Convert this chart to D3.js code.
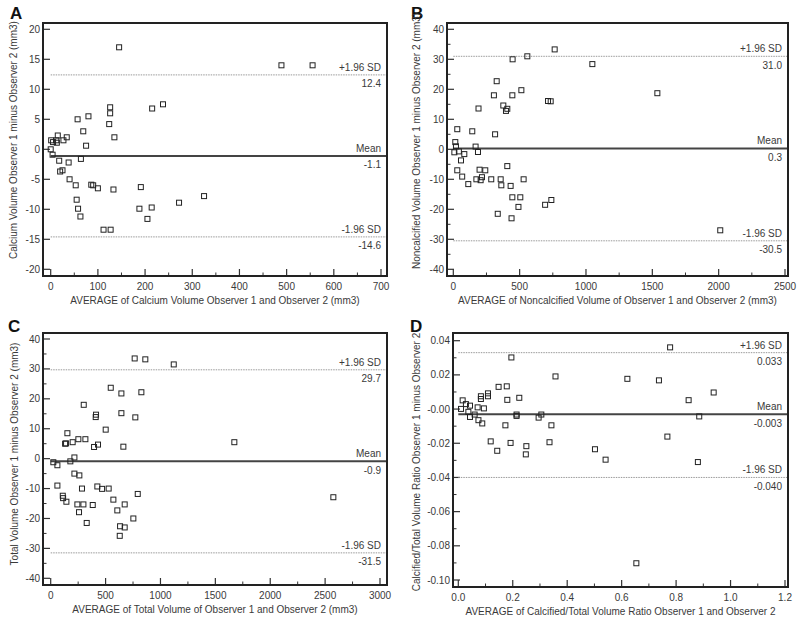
<!DOCTYPE html>
<html><head><meta charset="utf-8">
<script src="https://cdn.jsdelivr.net/npm/d3@7"></script>
<style>
body{margin:0;background:#fff}
text{font-family:"Liberation Sans",Arial,Helvetica,sans-serif;fill:#3a3a3a}
</style>
</head><body>
<svg id="chart" width="800" height="621"></svg>
<script>
// ---------- DATA ----------
// Panel A: calcium volume
const calciumAvg  = [145,489,555,238,215,126,126,124,135,80,57,69,75,1,5,12,13,15,27,34,0,4,18,38,64,20,25,40,53,86,90,100,133,191,55,58,63,112,127,188,214,205,272,325];
const calciumDiff = [17,14,14,7.5,6.8,7,6,4.2,2,5.5,5,3,0.6,1.5,1.2,1.5,1.1,2.3,1.5,2,0,-0.9,-1.9,-2.2,-1.6,-3.7,-3.5,-5,-6,-5.9,-6,-6.5,-6.7,-6.3,-8.4,-9.9,-11.2,-13.4,-13.4,-9.9,-9.7,-11.6,-8.9,-7.8];
const calciumStats = [12.4, -1.1, -14.6];           // +1.96 SD, mean, -1.96 SD
const calciumStatLabels = ["12.4", "-1.1", "-14.6"];

// Panel B: noncalcified volume
const noncalcAvg  = [764,558,447,1048,1538,327,513,306,445,714,734,377,407,397,190,30,143,315,15,20,168,8,42,83,186,58,30,198,241,407,67,113,174,206,216,286,357,362,432,530,445,505,739,692,491,335,439,2012];
const noncalcDiff = [33.3,31,30,28.4,18.7,22.7,19.7,18,18,16.1,16,14.6,13.5,12.8,13.6,6.7,6,5,2.4,1,0.9,-1,-0.7,-1.6,-0.9,-3.7,-7,-6.8,-7,-5.6,-9.1,-11.6,-10,-10.3,-9.3,-10,-10,-12,-12.2,-10,-16,-16,-16.9,-18.5,-19.2,-21.5,-23,-27];
const noncalcStats = [31.0, 0.3, -30.5];
const noncalcStatLabels = ["31.0", "0.3", "-30.5"];

// Panel C: total volume
const totalAvg  = [765,862,1121,547,644,826,301,413,410,644,771,501,152,131,140,200,252,316,395,431,662,216,179,24,61,216,261,61,110,113,143,285,425,468,528,793,243,298,258,383,571,674,607,328,753,632,674,629,1673,2575];
const totalDiff = [33.5,33.2,31.5,23.7,21.8,22.2,18,14.7,13.9,15.2,13.8,9.7,8.5,5,5.1,5.5,6.5,6.5,3.9,4.7,4,0.4,-0.9,-1.2,-2.2,-5,-5.6,-9,-12.4,-13.2,-14.4,-10,-9.3,-10.1,-10,-11.8,-15.3,-15.3,-17.9,-15.5,-13.7,-15.3,-17.3,-21.5,-20,-22.6,-23,-25.8,5.5,-12.9];
const totalStats = [29.7, -0.9, -31.5];
const totalStatLabels = ["29.7", "-0.9", "-31.5"];

// Panel D: calcified/total volume ratio
const ratioAvg  = [0.778,0.195,0.357,0.621,0.737,0.938,0.846,0.885,0.768,0.880,0.502,0.541,0.654,0.148,0.178,0.180,0.224,0.109,0.109,0.083,0.083,0.016,0.043,0.028,0.010,0.071,0.094,0.037,0.043,0.060,0.074,0.088,0.214,0.214,0.305,0.295,0.173,0.342,0.119,0.143,0.192,0.250,0.248,0.335];
const ratioDiff = [0.0361,0.0302,0.0191,0.0177,0.0168,0.0097,0.0052,-0.0043,-0.0161,-0.0310,-0.0235,-0.0296,-0.0902,0.0130,0.0133,0.0054,0.0066,0.0092,0.0075,0.0075,0.0059,0.0051,0.0020,0.0029,0.0001,0.0010,0.0004,-0.0016,-0.0046,-0.0032,-0.0065,-0.0084,-0.0032,-0.0040,-0.0032,-0.0050,-0.0095,-0.0095,-0.0189,-0.0244,-0.0198,-0.0217,-0.0265,-0.0194];
const ratioStats = [0.033, -0.003, -0.040];
const ratioStatLabels = ["0.033", "-0.003", "-0.040"];

// Axis ticks and labels
const calciumXTicks = [0,100,200,300,400,500,600,700];
const calciumXMinor = [50,150,250,350,450,550,650];
const calciumYTicks = [20,15,10,5,0,-5,-10,-15,-20];
const calciumYMinor = [];
const noncalcXTicks = [0,500,1000,1500,2000,2500];
const noncalcXMinor = [250,750,1250,1750,2250];
const noncalcYTicks = [40,30,20,10,0,-10,-20,-30,-40];
const noncalcYMinor = [35,25,15,5,-5,-15,-25,-35];
const totalXTicks = [0,500,1000,1500,2000,2500,3000];
const totalXMinor = [250,750,1250,1750,2250,2750];
const totalYTicks = [40,30,20,10,0,-10,-20,-30,-40];
const totalYMinor = [35,25,15,5,-5,-15,-25,-35];
const ratioXTicks = [0,0.2,0.4,0.6,0.8,1.0,1.2];
const ratioXTickLabels = ["0.0","0.2","0.4","0.6","0.8","1.0","1.2"];
const ratioXMinor = [0.1,0.3,0.5,0.7,0.9,1.1];
const ratioYTicks = [0.04,0.02,0,-0.02,-0.04,-0.06,-0.08,-0.10];
const ratioYTickLabels = ["0.04","0.02","-0.00","-0.02","-0.04","-0.06","-0.08","-0.10"];
const ratioYMinor = [0.03,0.01,-0.01,-0.03,-0.05,-0.07,-0.09];

const statNames = ["+1.96 SD", "Mean", "-1.96 SD"];

// ---------- LAYOUT ----------
const panels = [
  {letter:"A", lx:10, ly:18.5, frame:[43,387,23,276], xr:[50.7,381], yr:[269.3,29.3],
   xd:[0,700], yd:[-20,20], xs:calciumAvg, ys:calciumDiff, stats:calciumStats, statLabels:calciumStatLabels,
   xTicks:calciumXTicks, xLabels:calciumXTicks.map(String), xMinor:calciumXMinor,
   yTicks:calciumYTicks, yLabels:calciumYTicks.map(String), yMinor:calciumYMinor,
   xTitle:"AVERAGE of Calcium Volume Observer 1 and Observer 2 (mm3)",
   yTitle:"Calcium Volume Observer 1 minus Observer 2 (mm3)", yTitleX:17, yTitleC:140},
  {letter:"B", lx:411, ly:18.5, frame:[447,788,23,276], xr:[453.3,785], yr:[269.3,29.3],
   xd:[0,2500], yd:[-40,40], xs:noncalcAvg, ys:noncalcDiff, stats:noncalcStats, statLabels:noncalcStatLabels,
   xTicks:noncalcXTicks, xLabels:noncalcXTicks.map(String), xMinor:noncalcXMinor,
   yTicks:noncalcYTicks, yLabels:noncalcYTicks.map(String), yMinor:noncalcYMinor,
   xTitle:"AVERAGE of Noncalcified Volume of Observer 1 and Observer 2 (mm3)",
   yTitle:"Noncalcified Volume Observer 1 minus Observer 2 (mm3)", yTitleX:420, yTitleC:141},
  {letter:"C", lx:8, ly:332, frame:[43,387,333,585], xr:[50.7,380], yr:[578.3,339],
   xd:[0,3000], yd:[-40,40], xs:totalAvg, ys:totalDiff, stats:totalStats, statLabels:totalStatLabels,
   xTicks:totalXTicks, xLabels:totalXTicks.map(String), xMinor:totalXMinor,
   yTicks:totalYTicks, yLabels:totalYTicks.map(String), yMinor:totalYMinor,
   xTitle:"AVERAGE of Total Volume of Observer 1 and Observer 2 (mm3)",
   yTitle:"Total Volume Observer 1 minus Observer 2 (mm3)", yTitleX:17.5, yTitleC:454},
  {letter:"D", lx:410, ly:332, frame:[453,788,333,587], xr:[458.3,785], yr:[580,340.7],
   xd:[0,1.2], yd:[-0.10,0.04], xs:ratioAvg, ys:ratioDiff, stats:ratioStats, statLabels:ratioStatLabels,
   xTicks:ratioXTicks, xLabels:ratioXTickLabels, xMinor:ratioXMinor,
   yTicks:ratioYTicks, yLabels:ratioYTickLabels, yMinor:ratioYMinor,
   xTitle:"AVERAGE of Calcified/Total Volume Ratio Observer 1 and Observer 2",
   yTitle:"Calcified/Total Volume Ratio Observer 1 minus Observer 2", yTitleX:419.5, yTitleC:462}
];

const svg = d3.select("#chart");
svg.append("rect").attr("width",800).attr("height",621).attr("fill","#fff");

panels.forEach(p => {
  const [fx0, fx1, fy0, fy1] = p.frame;
  const x = d3.scaleLinear().domain(p.xd).range(p.xr);
  const y = d3.scaleLinear().domain(p.yd).range(p.yr);
  const g = svg.append("g");

  // panel letter
  g.append("text").attr("x", p.lx).attr("y", p.ly).text(p.letter)
    .style("font-size","17px").style("font-weight","bold").style("fill","#111");

  // ticks (inside the frame)
  p.yTicks.forEach((t,i) => {
    g.append("line").attr("x1",fx0).attr("x2",fx0+7).attr("y1",y(t)).attr("y2",y(t))
      .attr("stroke","#333").attr("stroke-width",1.2);
    g.append("text").attr("x",fx0-3).attr("y",y(t)+3.5).attr("text-anchor","end")
      .style("font-size","10px").text(p.yLabels[i]);
  });
  p.yMinor.forEach(t => {
    g.append("line").attr("x1",fx0).attr("x2",fx0+3.5).attr("y1",y(t)).attr("y2",y(t))
      .attr("stroke","#333").attr("stroke-width",1);
  });
  p.xTicks.forEach((t,i) => {
    g.append("line").attr("x1",x(t)).attr("x2",x(t)).attr("y1",fy1).attr("y2",fy1-7)
      .attr("stroke","#333").attr("stroke-width",1.2);
    g.append("text").attr("x",x(t)).attr("y",fy1+13.5).attr("text-anchor","middle")
      .style("font-size","10px").text(p.xLabels[i]);
  });
  p.xMinor.forEach(t => {
    g.append("line").attr("x1",x(t)).attr("x2",x(t)).attr("y1",fy1).attr("y2",fy1-3.5)
      .attr("stroke","#333").attr("stroke-width",1);
  });

  // reference lines
  p.stats.forEach((v,i) => {
    const isMean = i === 1;
    g.append("line").attr("x1",x(p.xd[0])).attr("x2",fx1).attr("y1",y(v)).attr("y2",y(v))
      .attr("stroke", isMean ? "#444" : "#9a9a9a")
      .attr("stroke-width", isMean ? 2 : 1)
      .attr("stroke-dasharray", isMean ? null : "1.5,1");
    g.append("text").attr("x",fx1-6).attr("y",y(v)-4).attr("text-anchor","end")
      .style("font-size","10px").text(statNames[i]);
    g.append("text").attr("x",fx1-6).attr("y",y(v)+12.5).attr("text-anchor","end")
      .style("font-size","10px").text(p.statLabels[i]);
  });

  // points
  g.selectAll("rect.pt").data(p.xs.map((v,i)=>[v,p.ys[i]])).enter().append("rect")
    .attr("class","pt")
    .attr("x", d => x(d[0]) - 2.5).attr("y", d => y(d[1]) - 2.5)
    .attr("width",5).attr("height",5)
    .attr("fill","none").attr("stroke","#222").attr("stroke-width",1);

  // frame
  g.append("rect").attr("x",fx0).attr("y",fy0).attr("width",fx1-fx0).attr("height",fy1-fy0)
    .attr("fill","none").attr("stroke","#222").attr("stroke-width",2);

  // axis titles
  g.append("text").attr("x",(fx0+fx1)/2).attr("y",fy1+28).attr("text-anchor","middle")
    .style("font-size","10px").text(p.xTitle);
  g.append("text").attr("transform",`translate(${p.yTitleX},${p.yTitleC}) rotate(-90)`)
    .attr("text-anchor","middle").style("font-size","10px").text(p.yTitle);
});
</script>
</body></html>
